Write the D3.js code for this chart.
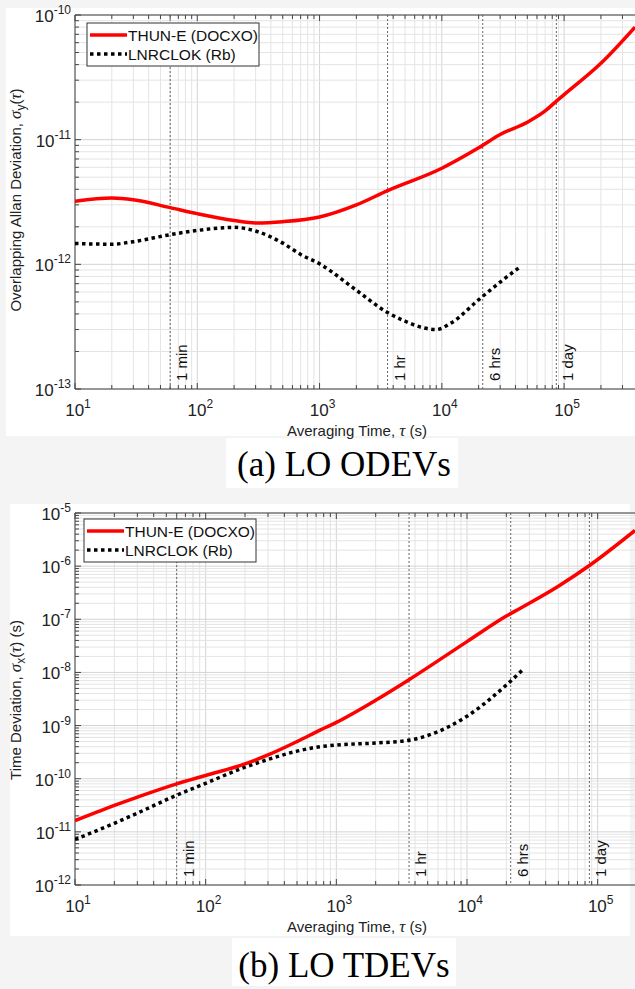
<!DOCTYPE html>
<html><head><meta charset="utf-8">
<script src="https://cdn.jsdelivr.net/npm/d3@7"></script>
<style>
body{margin:0;background:#f4f4f4;}
svg{display:block;font-family:"Liberation Sans",Arial,sans-serif;}
</style></head>
<body><svg id="c" width="635" height="989"></svg>
<script>
// ---- data ----
const seriesNames = ["THUN-E (DOCXO)", "LNRCLOK (Rb)"];
const refTaus = [60, 3600, 21600, 86400];
const refLabels = ["1 min", "1 hr", "6 hrs", "1 day"];

const odevTau_thun = [10, 20, 30, 60, 100, 200, 300, 500, 1000, 2000, 3600, 10000, 20000, 30000, 50000, 70000, 87000, 100000, 200000, 380000];
const odevVal_thun = [3.2e-12, 3.4e-12, 3.3e-12, 2.85e-12, 2.55e-12, 2.25e-12, 2.15e-12, 2.2e-12, 2.4e-12, 3.0e-12, 3.9e-12, 5.9e-12, 8.6e-12, 1.1e-11, 1.38e-11, 1.7e-11, 2.05e-11, 2.3e-11, 4.1e-11, 8.0e-11];
const odevTau_rb = [10, 20, 30, 60, 100, 200, 300, 500, 700, 1000, 2000, 3600, 5000, 7000, 9000, 12000, 20000, 30000, 44000];
const odevVal_rb = [1.47e-12, 1.45e-12, 1.52e-12, 1.73e-12, 1.87e-12, 1.98e-12, 1.85e-12, 1.48e-12, 1.2e-12, 1.01e-12, 6.2e-13, 4.1e-13, 3.5e-13, 3.1e-13, 3.0e-13, 3.4e-13, 5.2e-13, 7.2e-13, 9.6e-13];

const tdevTau_thun = [10, 15, 20, 30, 60, 100, 200, 300, 500, 750, 1000, 2000, 3600, 10000, 20000, 25400, 50000, 87000, 193000];
const tdevVal_thun = [1.62e-11, 2.4e-11, 3.15e-11, 4.5e-11, 8.0e-11, 1.15e-10, 1.9e-10, 2.8e-10, 5.0e-10, 8.2e-10, 1.15e-9, 3.0e-9, 7.3e-9, 3.8e-8, 1.15e-7, 1.6e-7, 4.2e-7, 1.04e-6, 4.7e-6];
const tdevTau_rb = [10, 20, 30, 60, 100, 200, 300, 500, 750, 1000, 2000, 3600, 5000, 10000, 20000, 27000];
const tdevVal_rb = [7.2e-12, 1.45e-11, 2.25e-11, 4.9e-11, 8.2e-11, 1.65e-10, 2.3e-10, 3.3e-10, 4.0e-10, 4.3e-10, 4.7e-10, 5.3e-10, 6.5e-10, 1.5e-9, 5.8e-9, 1.15e-8];

const odevYTicks = [-10, -11, -12, -13];
const tdevYTicks = [-5, -6, -7, -8, -9, -10, -11, -12];
const xTickExps = [1, 2, 3, 4, 5];

// ---- drawing ----
const svg = d3.select("#c");
svg.append("rect").attr("x",6).attr("y",8).attr("width",629).attr("height",428).attr("fill","#fff");
svg.append("rect").attr("x",226).attr("y",438).attr("width",232).attr("height",50).attr("fill","#fff");
svg.append("rect").attr("x",10).attr("y",504).attr("width",620).attr("height",432).attr("fill","#fff");
svg.append("rect").attr("x",232).attr("y",938).attr("width",224).attr("height",48).attr("fill","#fff");

function panel(cfg){
  const g = svg.append("g");
  const x = d3.scaleLog().domain(cfg.xDom).range([cfg.left, cfg.right]);
  const y = d3.scaleLog().domain(cfg.yDom).range([cfg.bottom, cfg.top]);
  const clipId = "clip"+cfg.id;
  svg.append("clipPath").attr("id",clipId).append("rect")
    .attr("x",cfg.left).attr("y",cfg.top).attr("width",cfg.right-cfg.left).attr("height",cfg.bottom-cfg.top);
  const xMinor = [], yMinor = [];
  for(let e=Math.floor(Math.log10(cfg.xDom[0])); e<=Math.ceil(Math.log10(cfg.xDom[1])); e++)
    for(let m=1;m<10;m++){const v=m*Math.pow(10,e); if(v>=cfg.xDom[0]&&v<=cfg.xDom[1]) xMinor.push({v,major:m===1});}
  for(let e=Math.floor(Math.log10(cfg.yDom[0])); e<=Math.ceil(Math.log10(cfg.yDom[1])); e++)
    for(let m=1;m<10;m++){const v=m*Math.pow(10,e); if(v>=cfg.yDom[0]*0.999&&v<=cfg.yDom[1]*1.001) yMinor.push({v,major:m===1});}
  const grid = g.append("g");
  grid.selectAll(".gx").data(xMinor).join("line")
    .attr("x1",d=>x(d.v)).attr("x2",d=>x(d.v)).attr("y1",cfg.top).attr("y2",cfg.bottom)
    .attr("stroke",d=>d.major?"#d4d4d4":"#e4e4e4").attr("stroke-width",1);
  grid.selectAll(".gy").data(yMinor).join("line")
    .attr("y1",d=>y(d.v)).attr("y2",d=>y(d.v)).attr("x1",cfg.left).attr("x2",cfg.right)
    .attr("stroke",d=>d.major?"#d4d4d4":"#e4e4e4").attr("stroke-width",1);
  const tk = g.append("g").attr("stroke","#444").attr("stroke-width",1);
  xMinor.forEach(d=>{
    const L = d.major?6:4;
    tk.append("line").attr("x1",x(d.v)).attr("x2",x(d.v)).attr("y1",cfg.bottom).attr("y2",cfg.bottom-L);
    tk.append("line").attr("x1",x(d.v)).attr("x2",x(d.v)).attr("y1",cfg.top).attr("y2",cfg.top+L);
  });
  yMinor.forEach(d=>{
    const L = d.major?6:4;
    tk.append("line").attr("y1",y(d.v)).attr("y2",y(d.v)).attr("x1",cfg.left).attr("x2",cfg.left+L);
  });
  refTaus.forEach((t,i)=>{
    g.append("line").attr("x1",x(t)).attr("x2",x(t)).attr("y1",cfg.top).attr("y2",cfg.bottom)
      .attr("stroke","#666").attr("stroke-width",1).attr("stroke-dasharray","2,2");
    g.append("text").attr("transform",`translate(${x(t)+17},${cfg.bottom-8}) rotate(-90)`)
      .attr("font-size",15).attr("fill","#111").text(refLabels[i]);
  });
  g.append("line").attr("x1",cfg.left).attr("x2",cfg.right).attr("y1",cfg.bottom).attr("y2",cfg.bottom).attr("stroke","#444");
  g.append("line").attr("x1",cfg.left).attr("x2",cfg.right).attr("y1",cfg.top).attr("y2",cfg.top).attr("stroke","#444");
  g.append("line").attr("x1",cfg.left).attr("x2",cfg.left).attr("y1",cfg.top).attr("y2",cfg.bottom).attr("stroke","#444");
  xTickExps.forEach(e=>{
    const t = g.append("text").attr("x",x(Math.pow(10,e))+3).attr("y",cfg.bottom+27).attr("text-anchor","middle")
      .attr("font-size",17).attr("fill","#222");
    t.append("tspan").text("10");
    t.append("tspan").attr("dy",-8).attr("font-size",12).text(e);
  });
  cfg.yTicks.forEach(e=>{
    const t = g.append("text").attr("x",cfg.left-4).attr("y",y(Math.pow(10,e))+7).attr("text-anchor","end")
      .attr("font-size",17).attr("fill","#222");
    t.append("tspan").text("10");
    t.append("tspan").attr("dy",-8).attr("font-size",12).text(e);
  });
  const xl = g.append("text").attr("x",357).attr("y",cfg.bottom+47).attr("text-anchor","middle")
    .attr("font-size",15).attr("fill","#222");
  xl.append("tspan").text("Averaging Time, ");
  xl.append("tspan").attr("font-family","Liberation Serif, serif").attr("font-style","italic").attr("font-size",17).text("τ");
  xl.append("tspan").text(" (s)");
  const yl = g.append("text").attr("transform",`translate(21,${cfg.yLabelY}) rotate(-90)`).attr("text-anchor","middle")
    .attr("font-size",15).attr("fill","#222");
  yl.append("tspan").text(cfg.yLabel+", ");
  yl.append("tspan").attr("font-family","Liberation Serif, serif").attr("font-style","italic").attr("font-size",17).text("σ");
  yl.append("tspan").attr("dy",4).attr("font-size",12).text(cfg.sub);
  yl.append("tspan").attr("dy",-4).text("(");
  yl.append("tspan").attr("font-family","Liberation Serif, serif").attr("font-style","italic").attr("font-size",17).text("τ");
  yl.append("tspan").text(")"+cfg.yUnit);
  const line = d3.line().x(d=>x(d[0])).y(d=>y(d[1])).curve(d3.curveMonotoneX);
  const lg = g.append("g").attr("clip-path",`url(#${clipId})`);
  lg.append("path").datum(d3.zip(cfg.rbT, cfg.rbV)).attr("d",line).attr("fill","none")
    .attr("stroke","#000").attr("stroke-width",3.5).attr("stroke-dasharray","3.5,3.5");
  lg.append("path").datum(d3.zip(cfg.thT, cfg.thV)).attr("d",line).attr("fill","none")
    .attr("stroke","#f00").attr("stroke-width",3.5);
  const lgd = g.append("g").attr("transform",`translate(${cfg.legX},${cfg.legY})`);
  lgd.append("rect").attr("width",172).attr("height",43).attr("fill","#fff").attr("stroke","#333").attr("stroke-width",1);
  lgd.append("line").attr("x1",3).attr("x2",40).attr("y1",12).attr("y2",12).attr("stroke","#f00").attr("stroke-width",3.5);
  lgd.append("line").attr("x1",3).attr("x2",40).attr("y1",31).attr("y2",31).attr("stroke","#000").attr("stroke-width",3.5).attr("stroke-dasharray","3.5,3.5");
  lgd.append("text").attr("x",41).attr("y",17.5).attr("font-size",15.5).attr("fill","#111").text(seriesNames[0]);
  lgd.append("text").attr("x",41).attr("y",36.5).attr("font-size",15.5).attr("fill","#111").text(seriesNames[1]);
  svg.append("text").attr("x",344).attr("y",cfg.capY).attr("text-anchor","middle")
    .attr("font-family","Liberation Serif, serif").attr("font-size",35).attr("fill","#000").text(cfg.caption);
}

panel({id:"a", xDom:[10, 3.8e5], yDom:[1e-13, 1e-10], left:75, right:635, top:15, bottom:389,
  yTicks: odevYTicks, yLabel:"Overlapping Allan Deviation", sub:"y", yUnit:"", yLabelY:200,
  thT: odevTau_thun, thV: odevVal_thun, rbT: odevTau_rb, rbV: odevVal_rb,
  legX:87, legY:23, caption:"(a) LO ODEVs", capY:476});
panel({id:"b", xDom:[10, 1.93e5], yDom:[1e-12, 1e-5], left:75, right:635, top:513, bottom:885,
  yTicks: tdevYTicks, yLabel:"Time Deviation", sub:"x", yUnit:" (s)", yLabelY:700,
  thT: tdevTau_thun, thV: tdevVal_thun, rbT: tdevTau_rb, rbV: tdevVal_rb,
  legX:84, legY:519, caption:"(b) LO TDEVs", capY:977});
</script></body></html>
